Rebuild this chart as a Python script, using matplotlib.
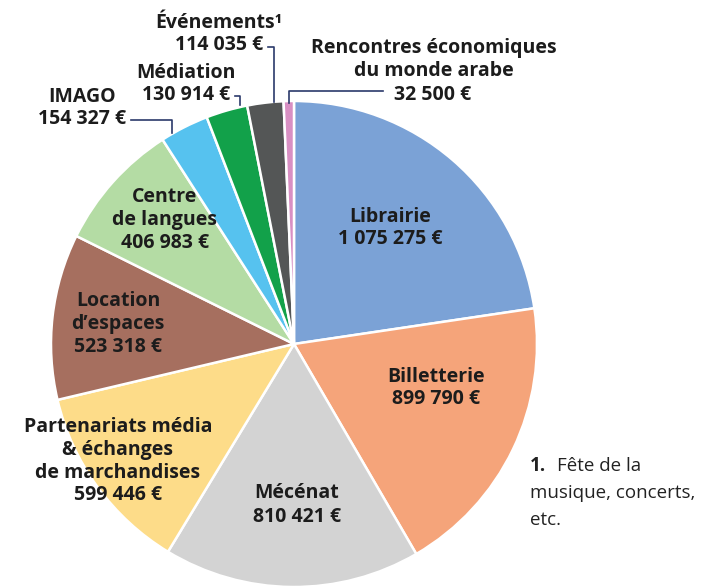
import matplotlib.pyplot as plt

plt.rcParams['font.family'] = ['Open Sans', 'DejaVu Sans']

# budget par poste (euros)
postes = ["Librairie", "Billetterie", "Mécénat",
          "Partenariats média\n& échanges\nde marchandises",
          "Location\nd’espaces", "Centre\nde langues", "IMAGO",
          "Médiation", "Événements¹", "Rencontres économiques\ndu monde arabe"]
montants = [1075275, 899790, 810421, 599446, 523318, 406983,
            154327, 130914, 114035, 32500]
montants_txt = ["1 075 275 €", "899 790 €", "810 421 €", "599 446 €",
                "523 318 €", "406 983 €", "154 327 €", "130 914 €",
                "114 035 €", "32 500 €"]
couleurs = ["#7ba2d6", "#f5a47a", "#d3d3d3", "#fddc89", "#a66f5f",
            "#b4dca4", "#56c2ef", "#12a14a", "#545656", "#d88fc3"]

W, H = 721, 587
def Y(y):
    # coordonnées en pixels depuis le haut
    return H - y

fig = plt.figure(figsize=(W / 100, H / 100), dpi=100)
ax = fig.add_axes([0, 0, 1, 1])

ax.pie(montants, colors=couleurs, startangle=90, counterclock=False,
       center=(294, Y(344)), radius=243,
       wedgeprops=dict(edgecolor='white', linewidth=1.8))

# pie() remet les limites, on les fixe après
ax.set_xlim(0, W)
ax.set_ylim(0, H)
ax.set_aspect('equal')
ax.axis('off')

txt = dict(ha='center', va='center', fontsize=14, fontweight='bold',
           color='#1c1c1c', linespacing=1.2)

# étiquettes dans les parts
pos_in = {0: (390, 228), 1: (436, 388), 2: (297, 505),
          3: (118, 461), 4: (118, 324), 5: (165, 220)}
for i, (x, y) in pos_in.items():
    ax.text(x, Y(y), postes[i] + "\n" + montants_txt[i], **txt)

# étiquettes extérieures avec traits de rappel
ligne = dict(color='#2b3a6b', linewidth=1.2)
ax.text(82, Y(108), postes[6] + "\n" + montants_txt[6], **txt)
ax.plot([131, 172, 172], [Y(120), Y(120), Y(133)], **ligne)

ax.text(186, Y(84), postes[7] + "\n" + montants_txt[7], **txt)
ax.plot([235, 240, 240], [Y(96), Y(96), Y(105)], **ligne)

ax.text(219, Y(34), postes[8] + "\n" + montants_txt[8], **txt)
ax.plot([268, 274, 274], [Y(47), Y(47), Y(102)], **ligne)

ax.text(434, Y(60), postes[9], **txt)
ax.text(433, Y(95), montants_txt[9], **txt)
ax.plot([383, 289, 289], [Y(91), Y(91), Y(103)], **ligne)

# note
note = dict(fontsize=13.5, color='#222222', ha='left', va='center')
ax.text(530, Y(466), "1.", fontweight='bold', **note)
ax.text(557, Y(466), "Fête de la", **note)
ax.text(530, Y(493), "musique, concerts,", **note)
ax.text(530, Y(520), "etc.", **note)

plt.savefig("out.png", dpi=100)
plt.close()
